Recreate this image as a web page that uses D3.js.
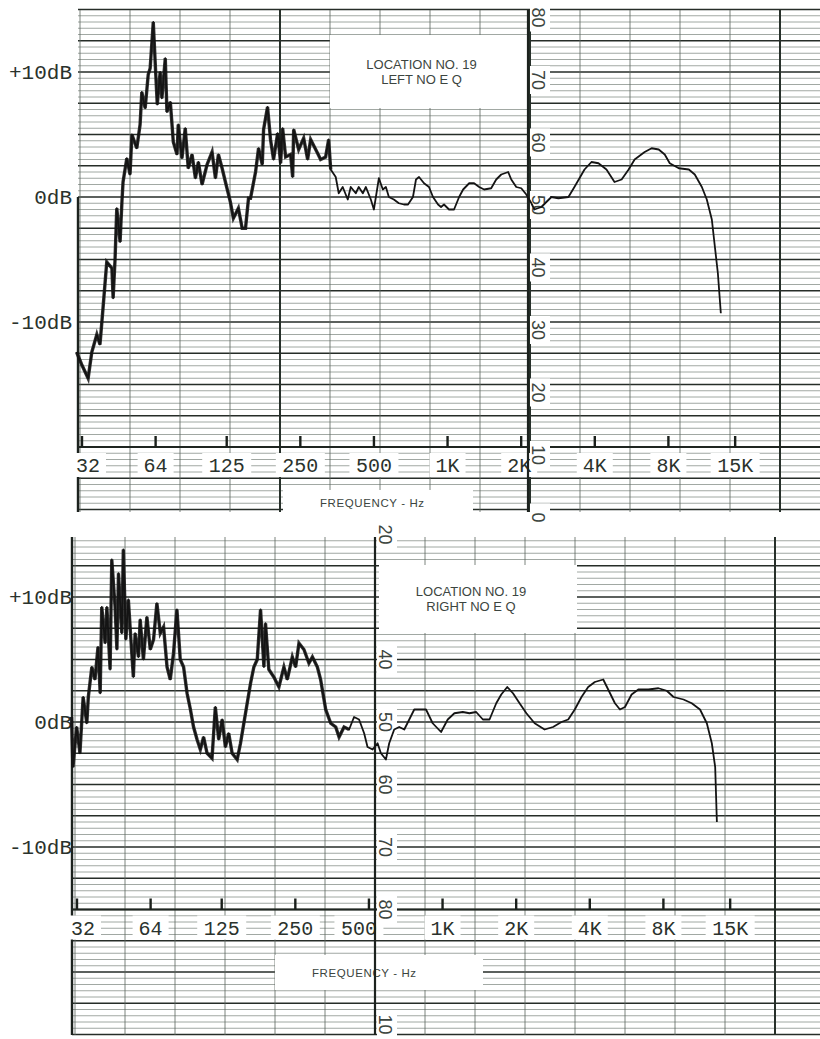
<!DOCTYPE html>
<meta charset="utf-8">
<style>
body { margin: 0; background: #fff; }
svg { display: block; }
.fine { stroke: #6e7871; stroke-width: 0.65; }
.major { stroke: #262d28; stroke-width: 1.4; }
.vgrid { stroke: #5c655e; stroke-width: 0.8; }
.vheavy { stroke: #27302a; stroke-width: 2; }
.curve { fill: none; stroke: #141414; stroke-width: 1.8; stroke-linejoin: round; }
.noisy { fill: none; stroke: #141414; stroke-width: 3.4; stroke-linejoin: miter; stroke-opacity: 0.85; }
.mono { font-family: "Liberation Mono", "DejaVu Sans Mono", monospace; fill: #2a322c; }
.sans { font-family: "Liberation Sans", Arial, sans-serif; fill: #3c4540; }
</style>
<svg width="820" height="1039"></svg>
<script src="https://d3js.org/d3.v7.min.js"></script>
<script>

// frequency axis ticks
var freqTicks  = [32, 64, 125, 250, 500, 1000, 2000, 4000, 8000, 15000];
var freqLabels = ["32", "64", "125", "250", "500", "1K", "2K", "4K", "8K", "15K"];

// level labels
var dbTicks  = [10, 0, -10];
var dbLabels = ["+10dB", "0dB", "-10dB"];

// chart-paper scale printed on the paper (value, dB position)
var topPaperVals = [80, 70, 60, 50, 40, 30, 20, 10, 0];
var topPaperDb   = [15, 10, 5, 0, -5, -10, -15, -20, -25];
var botPaperVals = [20, 40, 50, 60, 70, 80, 10];
var botPaperDb   = [15, 5, 0, -5, -10, -15, -24.2];

// LEFT, no EQ  (Hz, dB)
var leftFreq = [30.4, 31.9, 33.9, 35.1, 36.8, 37.9, 39.0, 40.4, 42.4, 42.9, 43.7, 44.4, 45.8, 46.6, 47.1,
  48.8, 50.3, 51.2, 53.6, 55.3, 56.2, 58.0, 59.7, 60.8, 62.6, 63.8, 65.0, 66.8, 67.9, 70.1, 71.2, 73.5,
  75.6, 78.3, 79.2, 82.0, 84.6, 87.0, 90.2, 93.1, 95.7, 99.1, 103.9, 108.9, 112.4, 115.6, 119.7, 123.5,
  129.4, 133.1, 139.5, 144.6, 149.2, 153.5, 156.4, 164.0, 168.7, 174.7, 176.9, 183.6, 188.8, 194.3,
  201.9, 207.7, 211.6, 217.7, 228.2, 232.6, 234.8, 246.1, 258.0, 267.8, 275.5, 294.1, 302.6, 317.2,
  326.4, 332.8, 348.9, 358.9, 372.7, 390.7, 401.9, 421.4, 433.4, 450.3, 463.4, 485.6, 499.7, 523.8,
  543.7, 559.6, 575.5, 603.1, 632.3, 663.0, 689.2, 721.9, 742.9, 764.4, 801.3, 839.7, 871.9, 914.4,
  940.5, 967.2, 1014, 1063, 1115, 1158, 1226, 1284, 1347, 1411, 1508, 1581, 1658, 1770, 1822, 1910,
  2002, 2099, 2202, 2264, 2419, 2658, 2839, 3121, 3302, 3631, 3877, 4141, 4465, 4817, 5149, 5501,
  5820, 6398, 6832, 7303, 7729, 8102, 8823, 9699, 10256, 10961, 11485, 12042, 12395, 12747, 13107];
var leftDb = [-12.4, -13.4, -14.5, -12.4, -11.0, -11.8, -8.9, -5.2, -5.7, -8.1, -4.9, -0.9, -3.6, -0.4, 1.2,
  3.1, 1.8, 5.0, 3.9, 5.8, 8.4, 7.1, 9.8, 10.3, 14.0, 10.6, 7.4, 10.0, 7.9, 11.1, 6.8, 7.6,
  4.4, 3.4, 5.8, 3.1, 5.5, 2.3, 3.4, 1.5, 2.8, 1.0, 2.6, 3.6, 1.5, 3.4, 2.3, 1.2,
  -0.4, -1.7, -0.9, -2.5, -2.5, -0.1, -0.1, 2.0, 3.9, 2.6, 5.4, 7.2, 4.6, 3.0,
  5.1, 2.7, 5.5, 3.2, 3.4, 1.6, 5.4, 3.8, 4.7, 3.0, 4.6, 3.5, 3.0, 3.2,
  4.6, 2.2, 1.6, 0.3, 0.8, -0.2, 0.8, 0.3, 0.8, 0.3, 0.8, -0.2, -1.0, 1.5,
  0.6, 0.8, 0.0, -0.2, -0.5, -0.6, -0.6, 0.0, 1.4, 1.6, 1.1, 0.8, 0.0, -0.6,
  -0.8, -0.6, -1.0, -1.0, 0.0, 0.6, 1.1, 1.1, 0.8, 0.6, 0.7, 1.4, 1.8, 2.0, 1.4, 0.8,
  0.7, 0.2, -0.5, -1.0, -0.8, 0.0, -0.1, 0.0, 0.8, 2.2, 2.8, 2.7, 2.2, 1.2, 1.4, 2.2,
  3.0, 3.6, 3.9, 3.8, 3.4, 2.7, 2.3, 2.2, 1.8, 0.8, -0.2, -1.8, -4.0, -6.1, -9.3];

// RIGHT, no EQ  (Hz, dB)
var rightFreq = [30.4, 30.8, 31.9, 32.9, 33.9, 35.1, 35.6, 36.8, 37.9, 39.0, 39.8, 40.4, 41.7, 42.4, 43.7,
  44.4, 45.8, 46.6, 47.3, 48.8, 49.5, 50.7, 51.9, 53.6, 54.4, 55.3, 57.1, 58.0, 59.8, 61.8, 63.8, 65.8,
  67.9, 70.1, 72.3, 74.7, 77.0, 79.4, 82.0, 84.6, 87.3, 90.2, 93.1, 95.9, 99.1, 102.2, 105.4, 108.9,
  114.1, 117.7, 121.5, 125.5, 129.4, 133.5, 137.9, 144.6, 149.2, 156.4, 164.0, 169.2, 174.7, 180.2,
  186.0, 188.8, 194.8, 204.2, 214.2, 224.5, 231.8, 243.0, 250.7, 258.7, 271.1, 284.2, 293.6, 307.7,
  317.2, 332.8, 348.9, 365.7, 377.4, 395.6, 414.8, 434.6, 455.6, 477.9, 493.4, 517.4, 542.4, 559.6,
  586.6, 605.1, 634.3, 664.9, 697.4, 730.8, 766.1, 791.3, 855.9, 911.2, 986.1, 1050, 1118, 1210, 1288,
  1372, 1462, 1556, 1658, 1738, 1839, 1941, 2065, 2202, 2380, 2614, 2830, 3063, 3264, 3473, 3699,
  3940, 4195, 4540, 4757, 5069, 5314, 5571, 5930, 6318, 6944, 7633, 8256, 8799, 9668, 10447, 11294,
  12042, 12621, 13026, 13237];
var rightDb = [0.4, -3.6, -0.4, -2.5, 2.0, -0.1, 2.0, 4.4, 3.4, 6.0, 2.3, 9.2, 6.3, 9.2, 4.2,
  13.0, 9.2, 5.8, 11.9, 7.1, 13.8, 6.6, 9.8, 5.5, 3.6, 7.1, 5.2, 8.2, 5.0, 8.4, 5.8, 6.6,
  9.5, 7.1, 7.6, 4.4, 3.4, 5.5, 9.0, 5.0, 4.4, 2.3, 1.0, -0.4, -1.4, -2.2, -1.2, -2.5,
  -2.9, 1.2, -1.4, 0.2, -2.0, -0.9, -2.5, -3.0, -1.7, 0.7, 3.1, 4.4, 5.0, 9.0,
  4.4, 7.9, 4.2, 3.6, 2.8, 4.4, 3.4, 5.2, 4.4, 6.3, 5.8, 4.7, 5.2, 4.4,
  3.4, 1.0, -0.1, -0.4, -1.2, -0.4, -0.6, 0.4, 0.2, -0.9, -2.0, -2.2, -1.7, -2.5,
  -3.0, -1.7, -0.6, -0.4, -0.6, 0.2, 1.0, 1.0, 1.0, -0.1, -0.8, 0.2, 0.7, 0.8, 0.7,
  0.8, 0.2, 0.2, 1.5, 2.2, 2.8, 2.3, 1.5, 0.7, -0.1, -0.6, -0.4, 0.0, 0.2, 1.0, 2.0,
  2.8, 3.2, 3.4, 2.6, 1.5, 1.0, 1.2, 2.2, 2.6, 2.6, 2.7, 2.5, 2.0, 1.8, 1.5, 1.0,
  -0.1, -1.7, -3.6, -8.0];

// upper frequency of the heavily scribbled (noisy) part of each trace
var leftNoisyTo  = 340;
var rightNoisyTo = 420;

var svg = d3.select("svg");

var panels = [
  { top: 10, bottom: 512, left: 78, zeroY: 197, x32: 82, axisDb: -20, gridX0: 80, heavy: [280, 530, 780],
    scaleX: 528, labelShift: 8, paperVals: topPaperVals, paperDb: topPaperDb, nudge: {0: 6, 6: -2},
    freq: leftFreq, db: leftDb, noisyTo: leftNoisyTo, title: ["LOCATION NO. 19", "LEFT NO E Q"],
    titleBox: [330, 35, 197, 73], freqBox: [283, 490, 190, 25], leftEdgeFrom: 197 },
  { top: 537, bottom: 1035, left: 72, zeroY: 722, x32: 77, axisDb: -15, gridX0: 75, heavy: [375, 775],
    scaleX: 375, labelShift: 0, paperVals: botPaperVals, paperDb: botPaperDb, nudge: {0: 6, 4: -10},
    freq: rightFreq, db: rightDb, noisyTo: rightNoisyTo, title: ["LOCATION NO. 19", "RIGHT NO E Q"],
    titleBox: [379, 565, 198, 68], freqBox: [275, 955, 208, 35], leftEdgeFrom: 537 }
];

var octave = 73.3;

panels.forEach(function(p) {
  var x = d3.scaleLog().base(2).domain([32, 8000]).range([p.x32, p.x32 + 8 * octave]);
  var y = d3.scaleLinear().domain([-10, 10]).range([p.zeroY + 125, p.zeroY - 125]);

  var g = svg.append("g");

  // chart paper: horizontal rulings every 0.5 dB
  var hl = d3.range(-25, 15.01, 0.5).filter(function(v) {
    return y(v) >= p.top - 1 && y(v) <= p.bottom + 1;
  });
  g.selectAll("line.h").data(hl).enter().append("line")
      .attr("class", function(v) { return Math.abs(v / 2.5 - Math.round(v / 2.5)) < 1e-6 ? "h major" : "h fine"; })
      .attr("x1", p.left).attr("x2", 820)
      .attr("y1", function(v) { return y(v); }).attr("y2", function(v) { return y(v); });

  // vertical rulings of the paper
  var vl = d3.range(p.gridX0, 821, 50);
  g.selectAll("line.v").data(vl).enter().append("line")
      .attr("class", function(v) { return p.heavy.indexOf(v) >= 0 ? "v vheavy" : "v vgrid"; })
      .attr("x1", function(v) { return v; }).attr("x2", function(v) { return v; })
      .attr("y1", p.top).attr("y2", p.bottom);

  // left edge of the paper
  g.append("line").attr("x1", p.left).attr("x2", p.left)
      .attr("y1", p.leftEdgeFrom).attr("y2", p.bottom)
      .attr("stroke", "#1c221e").attr("stroke-width", 2.4);

  // title box
  var tb = p.titleBox;
  g.append("rect").attr("x", tb[0]).attr("y", tb[1]).attr("width", tb[2]).attr("height", tb[3]).attr("fill", "#fff");
  g.selectAll("text.title").data(p.title).enter().append("text")
      .attr("class", "title sans")
      .attr("x", tb[0] + tb[2] / 2 - 7)
      .attr("y", function(d, i) { return tb[1] + tb[3] / 2 - 3 + i * 15; })
      .attr("text-anchor", "middle").attr("font-size", 13)
      .text(function(d) { return d; });

  // frequency axis line and ticks
  var ay = y(p.axisDb);
  g.append("line").attr("x1", p.left).attr("x2", 820).attr("y1", ay).attr("y2", ay)
      .attr("stroke", "#1f2621").attr("stroke-width", 1.8);

  var fl = g.selectAll("g.fl").data(freqTicks).enter().append("g").attr("class", "fl");
  function lx(d, i) { return x(d) + (p.nudge[i] || 0); }
  fl.append("rect")
      .attr("x", function(d, i) { return lx(d, i) - freqLabels[i].length * 6.5 - 5; })
      .attr("y", ay + 6)
      .attr("width", function(d, i) { return freqLabels[i].length * 13 + 10; })
      .attr("height", 24).attr("fill", "#fff");
  fl.append("line")
      .attr("x1", function(d) { return x(d); }).attr("x2", function(d) { return x(d); })
      .attr("y1", ay - 11).attr("y2", ay)
      .attr("stroke", "#1a1f1b").attr("stroke-width", 2.4);
  fl.append("text").attr("class", "mono")
      .attr("x", lx)
      .attr("y", ay + 25)
      .attr("text-anchor", "middle").attr("font-size", 20)
      .text(function(d, i) { return freqLabels[i]; });

  // FREQUENCY - Hz
  var fb = p.freqBox;
  g.append("rect").attr("x", fb[0]).attr("y", fb[1]).attr("width", fb[2]).attr("height", fb[3]).attr("fill", "#fff");
  g.append("text").attr("class", "sans")
      .attr("x", fb[0] + 37).attr("y", fb[1] + fb[3] / 2 + 4)
      .attr("font-size", 11.5).attr("letter-spacing", 0.6)
      .text("FREQUENCY  -  Hz");

  // numbers printed on the paper scale, turned on their side
  var ps = g.selectAll("g.ps").data(p.paperVals).enter().append("g")
      .attr("class", "ps")
      .attr("transform", function(d, i) {
        return "translate(" + (p.scaleX + 10) + "," + (y(p.paperDb[i]) + p.labelShift) + ")";
      });
  ps.append("rect").attr("x", -8).attr("y", -14).attr("width", 20).attr("height", 28).attr("fill", "#fff");
  ps.append("text").attr("class", "sans")
      .attr("transform", "rotate(90)")
      .attr("text-anchor", "middle").attr("dy", "0.35em")
      .attr("font-size", 18).attr("fill", "#1e231f")
      .text(function(d) { return d; });
  g.append("line").attr("x1", p.scaleX).attr("x2", p.scaleX).attr("y1", p.top).attr("y2", p.bottom)
      .attr("stroke", "#1c221e").attr("stroke-width", 2.2);

  // dB labels on the left
  g.selectAll("text.db").data(dbTicks).enter().append("text")
      .attr("class", "db mono")
      .attr("x", 72).attr("y", function(d) { return y(d); })
      .attr("dy", "0.35em").attr("text-anchor", "end").attr("font-size", 21)
      .text(function(d, i) { return dbLabels[i]; });

  // response trace
  var pts = p.freq.map(function(f, i) { return { f: f, db: p.db[i] }; });
  var line = d3.line().x(function(d) { return x(d.f); }).y(function(d) { return y(d.db); });
  g.append("path").datum(pts.filter(function(d) { return d.f <= p.noisyTo; }))
      .attr("class", "noisy").attr("d", line);
  g.append("path").datum(pts).attr("class", "curve").attr("d", line);
});

</script>
